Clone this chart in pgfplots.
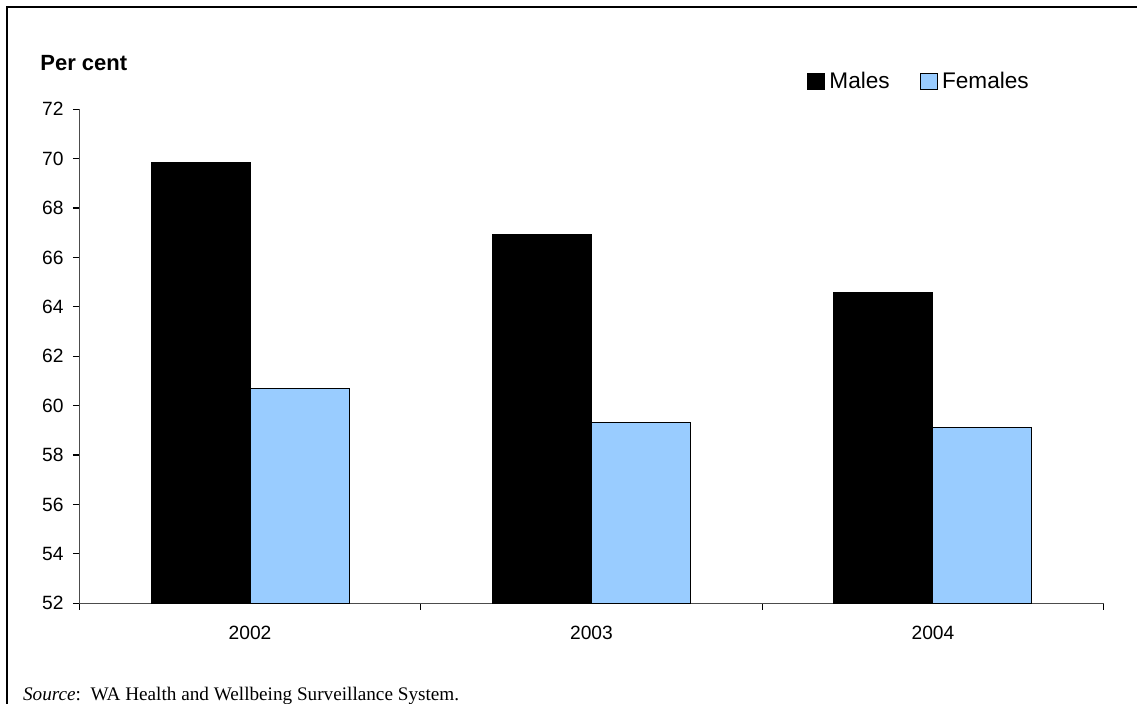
\documentclass[border=0pt]{standalone}
\usepackage{fontspec}
\setmainfont{Liberation Sans}
\newfontfamily\timesfont{Liberation Serif}
\usepackage{pgfplots}
\pgfplotsset{compat=1.18}
\definecolor{femblue}{RGB}{153,204,255}
\begin{document}
\begin{tikzpicture}[x=1pt,y=1pt]
\path (0,0) rectangle (568.5,352);
\begin{axis}[
  at={(39.65pt,50.35pt)}, anchor=south west,
  scale only axis, width=512.2pt, height=247pt,
  xmin=-0.5, xmax=2.5, ymin=52, ymax=72,
  ytick={52,54,...,72},
  xtick={-0.5,0.5,1.5,2.5}, xticklabels={},
  extra x ticks={0,1,2}, extra x tick labels={2002,2003,2004},
  extra x tick style={major tick length=0pt, tick style={draw=none}},
  axis x line=bottom, axis y line=left,
  axis line style={-, black!70, line width=0.6pt},
  tick style={black, line width=0.6pt},
  tick align=outside, major tick length=3.2pt,
  ytick pos=left, xtick pos=bottom,
  /pgf/number format/assume math mode=true,
  ticklabel style={font=\fontsize{9.6}{11}\selectfont},
  yticklabel style={inner sep=0pt, xshift=-4.5pt},
  xticklabel style={inner sep=0pt, anchor=north, yshift=-11.0pt},
  ybar=0pt, bar width=0.29,
  legend columns=2,
  legend style={at={(0.7104,1.0563)}, anchor=west, draw=none, fill=none,
    inner sep=0pt, outer sep=0pt, nodes={inner sep=0pt},
    font=\fontsize{11.3}{13}\selectfont,
    /tikz/every odd column/.append style={column sep=2.2pt},
    /tikz/every even column/.append style={column sep=15pt}},
  legend image code/.code={\draw[#1, draw=black, line width=0.5pt] (0pt,-3.8pt) rectangle (8.5pt,3.8pt);},
]
\addplot[fill=black, draw=black, line width=0.5pt] coordinates {(0,69.84) (1,66.95) (2,64.59)};
\addplot[fill=femblue, draw=black, line width=0.5pt] coordinates {(0,60.70) (1,59.33) (2,59.11)};
\legend{Males, Females}
\end{axis}
\node[anchor=base west, inner sep=0pt, font=\fontsize{11}{13}\selectfont\bfseries] at (20,316.5) {Per cent};
\node[anchor=base west, inner sep=0pt, font=\fontsize{9.6}{11}\selectfont\timesfont] at (11.35,1.75) {\textit{Source}:\ \ WA Health and Wellbeing Surveillance System.};
\draw[line width=1pt] (3.65,0) -- (3.65,348.5) -- (568.5,348.5);
\pgfresetboundingbox
\path[use as bounding box] (0,0) rectangle (568.5,352);
\end{tikzpicture}
\end{document}
